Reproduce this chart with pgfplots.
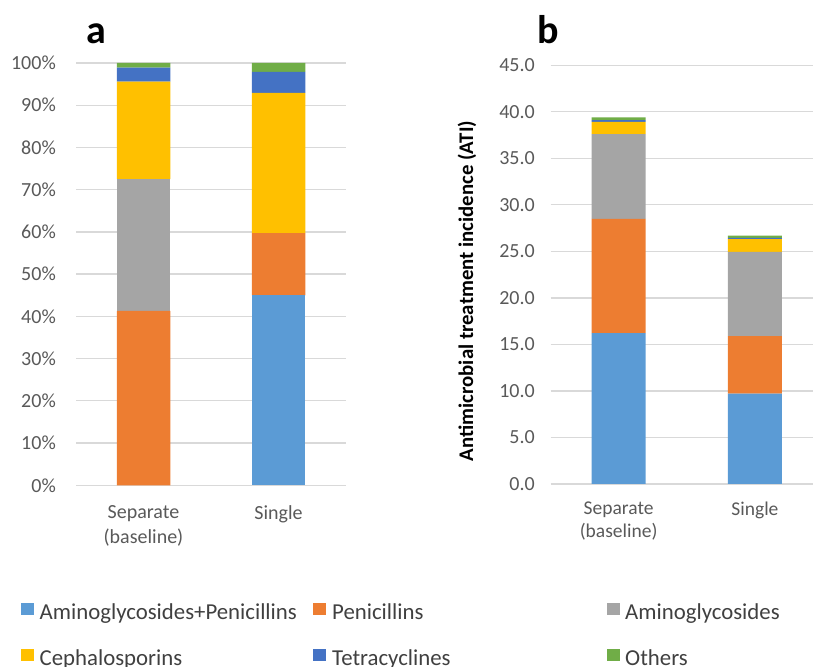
\documentclass[border=0pt]{standalone}
\usepackage{pgfplots}
\pgfplotsset{compat=1.18}
\usepackage{fontspec}
\setmainfont{Carlito}
\definecolor{cAP}{HTML}{5B9BD5}
\definecolor{cPen}{HTML}{ED7D31}
\definecolor{cAmi}{HTML}{A5A5A5}
\definecolor{cCep}{HTML}{FFC000}
\definecolor{cTet}{HTML}{4472C4}
\definecolor{cOth}{HTML}{70AD47}
\definecolor{gridc}{HTML}{D9D9D9}
\definecolor{tickc}{HTML}{595959}
\definecolor{legc}{HTML}{404040}
\pgfplotsset{
  basestyle/.style={
    scale only axis, ybar stacked,
    xmin=-0.5, xmax=1.5, ymin=0,
    axis line style={draw=none},
    major tick length=0pt,
    ymajorgrids, grid style={draw=gridc, line width=1.3pt},
    xtick={0,1},
    /pgf/number format/assume math mode=true,
    tick label style={text=tickc},
    yticklabel style={anchor=east, inner sep=0pt, font=\fontsize{20}{24}\selectfont},
    xticklabel style={anchor=north, inner sep=0pt, align=center},
    every axis plot/.append style={draw=none},
  }
}
\begin{document}
\begin{tikzpicture}[x=1pt,y=1pt]
\path[use as bounding box] (0,0) rectangle (813,666);
\clip (0,0) rectangle (813,666);
% Panel a
\begin{axis}[basestyle,
  at={(76pt,180.7pt)}, anchor=south west,
  width=270pt, height=422.3pt,
  bar width=53.5pt,
  ymax=100, ytick={0,10,...,100},
  yticklabel={\pgfmathprintnumber{\tick}\%},
  yticklabel style={xshift=-20pt},
  xticklabels={{Separate\\(baseline)},{Single}},
  xticklabel style={yshift=-20pt, font=\fontsize{20}{25}\selectfont},
]
\addplot[fill=cAP] coordinates {(0,0) (1,45.0)};
\addplot[fill=cPen] coordinates {(0,41.3) (1,14.7)};
\addplot[fill=cAmi] coordinates {(0,31.2) (1,0)};
\addplot[fill=cCep] coordinates {(0,23.1) (1,33.2)};
\addplot[fill=cTet] coordinates {(0,3.3) (1,5.0)};
\addplot[fill=cOth] coordinates {(0,1.1) (1,2.1)};
\end{axis}
% Panel b
\begin{axis}[basestyle,
  at={(550.5pt,182pt)}, anchor=south west,
  width=272.6pt, height=418.8pt,
  bar width=54pt,
  ymax=45, ytick={0,5,...,45},
  yticklabel style={xshift=-15.5pt, /pgf/number format/.cd, fixed, fixed zerofill, precision=1},
  xticklabels={{Separate\\(baseline)},{Single}},
  xticklabel style={yshift=-17.5pt, font=\fontsize{19.5}{23}\selectfont},
  ylabel={Antimicrobial treatment incidence (ATI)},
  every axis y label/.style={at={(axis description cs:-0.3063,0.4608)}, rotate=90, anchor=center, font=\fontsize{20.8}{24}\selectfont\bfseries, text=black},
  legend columns=3,
  legend cell align=left,
  legend style={at={(axis description cs:-1.9424,-0.2841)}, anchor=north west, draw=none, fill=none, inner sep=0pt, column sep=0pt, row sep=25pt,
    font=\fontsize{22.8}{26}\selectfont, text=legc,
    nodes={inner sep=0pt, text height=15.5pt, text depth=5pt}},
  legend image code/.code={\fill[#1] (0pt,-1pt) rectangle (12.5pt,11pt);},
]
\addplot[fill=cAP] coordinates {(0,16.2) (1,9.7)};
\addlegendentry{\hspace{6pt}\makebox[273.5pt][l]{Aminoglycosides+Penicillins}}
\addplot[fill=cPen] coordinates {(0,12.3) (1,6.2)};
\addlegendentry{\hspace{6.5pt}\makebox[275pt][l]{Penicillins}}
\addplot[fill=cAmi] coordinates {(0,9.1) (1,9.05)};
\addlegendentry{\hspace{5.5pt}Aminoglycosides}
\addplot[fill=cCep] coordinates {(0,1.3) (1,1.35)};
\addlegendentry{\hspace{6pt}\makebox[273.5pt][l]{Cephalosporins}}
\addplot[fill=cTet] coordinates {(0,0.2) (1,0.15)};
\addlegendentry{\hspace{6.5pt}\makebox[275pt][l]{Tetracyclines}}
\addplot[fill=cOth] coordinates {(0,0.3) (1,0.25)};
\addlegendentry{\hspace{5.5pt}Others}
\end{axis}
\node[font=\fontsize{40}{44}\selectfont\bfseries, anchor=base, inner sep=0pt] at (96,622.7) {a};
\node[font=\fontsize{40}{44}\selectfont\bfseries, anchor=base, inner sep=0pt] at (548,622.7) {b};
\end{tikzpicture}
\end{document}
